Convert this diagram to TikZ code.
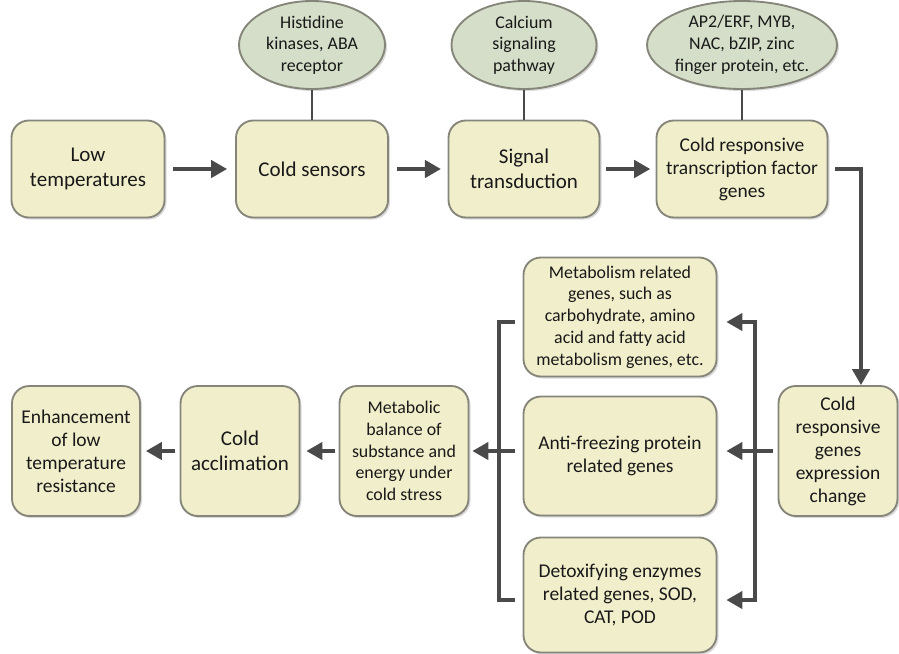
\documentclass[tikz,border=0pt]{standalone}
\usepackage{fontspec}
\setmainfont{Carlito}
\usetikzlibrary{shapes.geometric,arrows.meta,shadows}
\definecolor{boxfill}{HTML}{F1EFCB}
\definecolor{boxline}{HTML}{85857A}
\definecolor{ovalfill}{HTML}{D5DEC8}
\definecolor{linegray}{HTML}{4A4A4A}
\begin{document}
\begin{tikzpicture}[x=0.75pt, y=-0.75pt,
	main/.style = {draw=boxline, line width=1.4pt, fill=boxfill, rounded corners=13pt, align=center, inner sep=2pt, text=black!90, drop shadow={opacity=0.3, shadow xshift=1.5pt, shadow yshift=-1.5pt}},
	oval/.style = {draw=boxline, line width=1.4pt, fill=ovalfill, ellipse, align=center, inner sep=0pt, text=black!90, drop shadow={opacity=0.3, shadow xshift=1.5pt, shadow yshift=-1.5pt}},
	big/.style = {font=\fontsize{15.75}{18.75}\selectfont},
	mid/.style = {font=\fontsize{14.6}{17.25}\selectfont},
	small/.style = {font=\fontsize{13.4}{16.3}\selectfont},
	link/.style = {draw=linegray, line width=2.6pt},
	arr/.style = {link, -{Triangle[length=12pt,width=13pt]}}]
	\useasboundingbox (0,0) rectangle (899,653);
	\node[main, big, minimum width=114.75pt, minimum height=72.75pt] (1) at (88,169) {Low\\temperatures};
	\node[main, big, minimum width=114pt, minimum height=72.75pt] (2) at (312,169) {Cold sensors};
	\node[main, big, minimum width=113.25pt, minimum height=72.75pt] (3) at (524,169) {Signal\\transduction};
	\node[main, mid, minimum width=128.25pt, minimum height=72.75pt] (4) at (742,169) {Cold responsive\\transcription factor\\genes};
	\node[main, mid, minimum width=89.25pt, minimum height=97.5pt] (5) at (838,451) {Cold\\responsive\\genes\\expression\\change};
	\node[main, small, minimum width=144.75pt, minimum height=89.25pt] (6) at (620,317) {Metabolism related\\genes, such as\\carbohydrate, amino\\acid and fatty acid\\metabolism genes, etc.};
	\node[main, mid, minimum width=144.75pt, minimum height=89.25pt] (7) at (620,456) {Anti-freezing protein\\related genes};
	\node[main, mid, minimum width=144.75pt, minimum height=86.25pt] (8) at (620,595) {Detoxifying enzymes\\related genes, SOD,\\CAT, POD};
	\node[main, small, minimum width=96.75pt, minimum height=97.5pt] (9) at (404,451) {Metabolic\\balance of\\substance and\\energy under\\cold stress};
	\node[main, big, minimum width=89.25pt, minimum height=97.5pt] (10) at (240,451) {Cold\\acclimation};
	\node[main, mid, minimum width=96pt, minimum height=97.5pt] (11) at (76,451) {Enhancement\\of low\\temperature\\resistance};
	\node[oval, small, minimum width=109.5pt, minimum height=66pt] (12) at (312,45) {Histidine\\kinases, ABA\\receptor};
	\node[oval, small, minimum width=108.75pt, minimum height=66pt] (13) at (524,45) {Calcium\\signaling\\pathway};
	\node[oval, small, minimum width=139.5pt, minimum height=66pt] (14) at (742,45) {AP2/ERF, MYB,\\NAC, bZIP, zinc\\finger protein, etc.};
	\coordinate (r1) at (755,322);
	\coordinate (r2) at (755,451);
	\coordinate (r3) at (755,600);
	\coordinate (l1) at (499,322);
	\coordinate (l2) at (499,451);
	\coordinate (l3) at (499,600);
	\draw[link, line width=2pt] (12) -- (2);
	\draw[link, line width=2pt] (13) -- (3);
	\draw[link, line width=2pt] (14) -- (4);
	\draw[arr, shorten <=6pt, shorten >=6pt] (1) -- (2);
	\draw[arr, shorten <=6pt, shorten >=5pt] (2) -- (3);
	\draw[arr, shorten <=4.5pt, shorten >=4pt] (3) -- (4);
	\draw[arr, shorten <=5.25pt] (4.east) -| ([xshift=17.25pt]5.north);
	\draw[link, shorten <=3.75pt] (5) -- (r2);
	\draw[arr, shorten >=6.75pt] (r2) -- (r1) -- (r1 -| 6.east);
	\draw[arr, shorten >=6.75pt] (r2) -- (r2 -| 7.east);
	\draw[arr, shorten >=6.75pt] (r2) -- (r3) -- (r3 -| 8.east);
	\draw[link, shorten <=6pt] (l1 -| 6.west) -- (l1) -- (l2);
	\draw[link, shorten <=6pt] (l3 -| 8.west) -- (l3) -- (l2);
	\draw[link, shorten <=6pt] (l2 -| 7.west) -- (l2);
	\draw[arr, shorten >=2.25pt] (l2) -- (9);
	\draw[arr, shorten <=3pt, shorten >=4.5pt] (9) -- (10);
	\draw[arr, shorten <=3.75pt, shorten >=3.75pt] (10) -- (11);
\end{tikzpicture}
\end{document}
